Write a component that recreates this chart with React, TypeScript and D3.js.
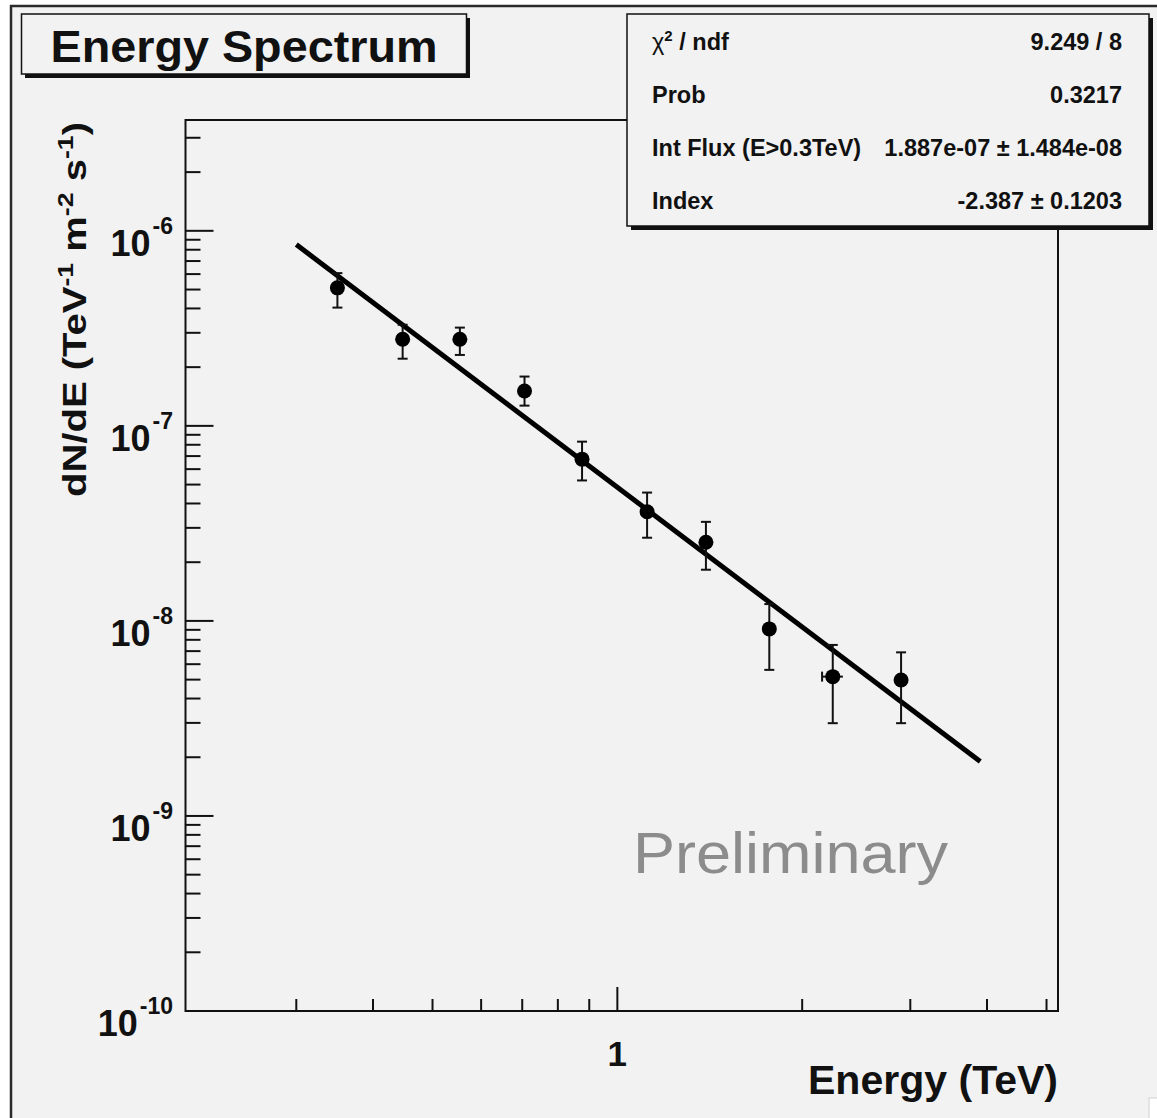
import React from 'react';
import * as d3 from 'd3';

// ---- data ----
const energy = [0.350, 0.447, 0.554, 0.706, 0.876, 1.118, 1.394, 1.768, 2.243, 2.898];
const flux = [5.1e-7, 2.78e-7, 2.78e-7, 1.51e-7, 6.75e-8, 3.63e-8, 2.53e-8, 9.1e-9, 5.18e-9, 4.98e-9];
const fluxHigh = [6.07e-7, 3.3e-7, 3.19e-7, 1.79e-7, 8.3e-8, 4.55e-8, 3.22e-8, 1.22e-8, 7.53e-9, 6.9e-9];
const fluxLow = [4.04e-7, 2.21e-7, 2.31e-7, 1.27e-7, 5.25e-8, 2.67e-8, 1.83e-8, 5.61e-9, 2.99e-9, 2.99e-9];
const energyLow = [0.343, 0.44, 0.547, 0.7, 0.87, 1.11, 1.385, 1.755, 2.155, 2.88];
const energyHigh = [0.350, 0.447, 0.554, 0.706, 0.876, 1.118, 1.394, 1.768, 2.33, 2.898];
const fitEnergy = [0.3, 3.9];
const fitFlux = [8.5e-7, 1.9e-9];

const xDomain = [0.198, 5.22];
const yDomain = [1e-10, 3.7e-6];
const yMajorExponents = [-6, -7, -8, -9, -10];
const xMajorTicks = [1];
const xMajorLabels = ['1'];
const xMinorTicks = [0.3, 0.4, 0.5, 0.6, 0.7, 0.8, 0.9, 2, 3, 4, 5];

const statsLabels = ['χ2 / ndf', 'Prob', 'Int Flux (E>0.3TeV)', 'Index'];
const statsValues = ['9.249 / 8', '0.3217', '1.887e-07 ± 1.484e-08', '-2.387 ± 0.1203'];

const W = 1157;
const H = 1118;
const FONT = 'Liberation Sans, Arial, Helvetica, sans-serif';

export default function App() {
  const frame = { left: 185.5, right: 1058, top: 120, bottom: 1011 };
  const x = d3.scaleLog().domain(xDomain).range([frame.left, frame.right]);
  const y = d3.scaleLog().domain(yDomain).range([frame.bottom, frame.top]);

  const yMinor: number[] = [];
  for (let e = -10; e <= -6; e++) {
    for (let m = 2; m <= 9; m++) {
      const v = m * Math.pow(10, e);
      if (v < yDomain[1]) yMinor.push(v);
    }
  }

  const fitPts: [number, number][] = fitEnergy.map((e, i) => [e, fitFlux[i]]);
  const line = d3.line<[number, number]>().x((d) => x(d[0])).y((d) => y(d[1]));

  const stat = { left: 627, right: 1149, top: 14, bottom: 226 };
  const rowY = [50, 103, 156, 209];

  return (
    <svg width={W} height={H} style={{ position: 'absolute', left: 0, top: 0 }} fontFamily={FONT}>
      <rect x={0} y={0} width={W} height={H} fill="#ffffff" />
      <rect x={10} y={5} width={W - 10} height={H - 5} fill="#f2f2f2" />
      <line x1={10} y1={6} x2={W} y2={6} stroke="#2a2a2a" strokeWidth={2.5} />
      <line x1={11} y1={5} x2={11} y2={H} stroke="#2a2a2a" strokeWidth={2.5} />
      <rect x={1149} y={1098} width={10} height={22} fill="#ffffff" stroke="#cfcfcf" strokeWidth={1} />

      {/* frame */}
      <rect x={frame.left} y={frame.top} width={frame.right - frame.left} height={frame.bottom - frame.top}
        fill="none" stroke="#111" strokeWidth={2} />

      {/* y ticks */}
      {yMajorExponents.map((e) => {
        const yy = y(Math.pow(10, e));
        return <line key={'ym' + e} x1={frame.left} x2={frame.left + 28} y1={yy} y2={yy} stroke="#111" strokeWidth={2} />;
      })}
      {yMinor.map((v, i) => (
        <line key={'yn' + i} x1={frame.left} x2={frame.left + 15} y1={y(v)} y2={y(v)} stroke="#111" strokeWidth={2} />
      ))}
      {/* x ticks */}
      {xMajorTicks.map((v) => (
        <line key={'xm' + v} x1={x(v)} x2={x(v)} y1={frame.bottom} y2={frame.bottom - 24} stroke="#111" strokeWidth={2} />
      ))}
      {xMinorTicks.map((v) => (
        <line key={'xn' + v} x1={x(v)} x2={x(v)} y1={frame.bottom} y2={frame.bottom - 12} stroke="#111" strokeWidth={2} />
      ))}

      {/* y tick labels */}
      {yMajorExponents.map((e) => {
        const yy = y(Math.pow(10, e));
        return (
          <text key={'yl' + e} x={173} y={yy + 25} textAnchor="end" fontSize={36} fontWeight="bold" fill="#111">
            <tspan>10</tspan>
            <tspan dx={2} dy={-22} fontSize={23}>{String(e)}</tspan>
          </text>
        );
      })}
      {/* x tick labels */}
      {xMajorTicks.map((v, i) => (
        <text key={'xl' + v} x={x(v)} y={1066} textAnchor="middle" fontSize={35} fontWeight="bold" fill="#111">
          {xMajorLabels[i]}
        </text>
      ))}

      {/* axis titles */}
      <text x={1058} y={1094} textAnchor="end" fontSize={40} fontWeight="bold" fill="#111"
        textLength={250} lengthAdjust="spacingAndGlyphs">Energy (TeV)</text>
      <text transform="translate(86,122) rotate(-90)" textAnchor="end" fontSize={33} fontWeight="bold" fill="#111"
        textLength={375} lengthAdjust="spacingAndGlyphs">
        <tspan>dN/dE (TeV</tspan>
        <tspan dy={-13} fontSize={22}>-1</tspan>
        <tspan dy={13}> m</tspan>
        <tspan dy={-13} fontSize={22}>-2</tspan>
        <tspan dy={13}> s</tspan>
        <tspan dy={-13} fontSize={22}>-1</tspan>
        <tspan dy={13}>)</tspan>
      </text>

      {/* fit line */}
      <path d={line(fitPts) || ''} fill="none" stroke="#000" strokeWidth={5} />

      {/* data points */}
      {energy.map((e, i) => {
        const cx = x(e);
        const cy = y(flux[i]);
        return (
          <g key={'p' + i}>
            <line x1={cx} x2={cx} y1={y(fluxHigh[i])} y2={y(fluxLow[i])} stroke="#111" strokeWidth={2} />
            <line x1={cx - 5} x2={cx + 5} y1={y(fluxHigh[i])} y2={y(fluxHigh[i])} stroke="#111" strokeWidth={2} />
            <line x1={cx - 5} x2={cx + 5} y1={y(fluxLow[i])} y2={y(fluxLow[i])} stroke="#111" strokeWidth={2} />
            <line x1={x(energyLow[i])} x2={x(energyHigh[i])} y1={cy} y2={cy} stroke="#111" strokeWidth={2} />
            {energyHigh[i] > energyLow[i] + 0.05 ? (
              <line x1={x(energyLow[i])} x2={x(energyLow[i])} y1={cy - 5} y2={cy + 5} stroke="#111" strokeWidth={2} />
            ) : null}
            <circle cx={cx} cy={cy} r={7.5} fill="#000" />
          </g>
        );
      })}

      {/* Preliminary */}
      <text x={633} y={873} fontSize={57} fill="#8c8c8c" textLength={315} lengthAdjust="spacingAndGlyphs">Preliminary</text>

      {/* title box */}
      <rect x={25} y={18} width={445} height={60} fill="#111" />
      <rect x={21.5} y={14} width={445} height={60} fill="#f2f2f2" stroke="#111" strokeWidth={1.5} />
      <text x={244} y={62} textAnchor="middle" fontSize={45} fontWeight="bold" fill="#111"
        textLength={387} lengthAdjust="spacingAndGlyphs">Energy Spectrum</text>

      {/* stats box */}
      <rect x={stat.left + 4} y={stat.top + 4} width={stat.right - stat.left} height={stat.bottom - stat.top} fill="#111" />
      <rect x={stat.left} y={stat.top} width={stat.right - stat.left} height={stat.bottom - stat.top}
        fill="#f2f2f2" stroke="#111" strokeWidth={1.5} />
      {statsLabels.map((lab, i) => (
        <text key={'sl' + i} x={652} y={rowY[i]} fontSize={23.5} fontWeight="bold" fill="#111">
          {i === 0 ? (
            <>
              <tspan fontWeight="normal">χ</tspan>
              <tspan dy={-9} fontSize={15}>2</tspan>
              <tspan dy={9}> / ndf</tspan>
            </>
          ) : lab}
        </text>
      ))}
      {statsValues.map((v, i) => (
        <text key={'sv' + i} x={1122} y={rowY[i]} textAnchor="end" fontSize={23.5} fontWeight="bold" fill="#111">{v}</text>
      ))}
    </svg>
  );
}
